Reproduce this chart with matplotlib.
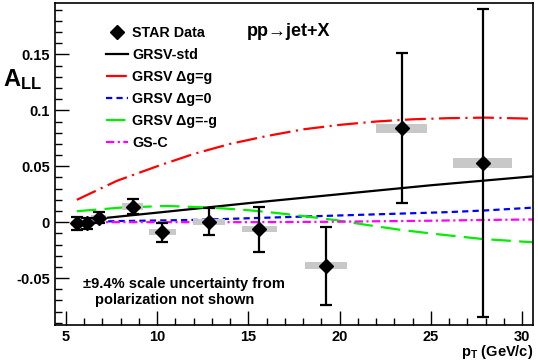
# STAR inclusive jet A_LL vs pT with GRSV / GS-C predictions
import numpy as np
import matplotlib
matplotlib.use('Agg')
import matplotlib.pyplot as plt
from matplotlib.patches import Rectangle
from matplotlib.lines import Line2D
from matplotlib.ticker import MultipleLocator, FuncFormatter

plt.rcParams['font.family'] = ['Liberation Sans', 'DejaVu Sans']
plt.rcParams['font.weight'] = 'bold'
plt.rcParams['mathtext.fontset'] = 'custom'
plt.rcParams['mathtext.rm'] = 'Liberation Sans:bold'
plt.rcParams['mathtext.bf'] = 'Liberation Sans:bold'
plt.rcParams['lines.scale_dashes'] = False

# STAR data
pt = [5.58, 6.13, 6.8, 8.65, 10.28, 12.83, 15.6, 19.25, 23.4, 27.84]
all_val = [-0.001, -0.001, 0.004, 0.014, -0.0092, 0.0003, -0.0065, -0.039, 0.084, 0.053]
stat_err = [0.006, 0.005, 0.005, 0.0065, 0.0085, 0.012, 0.02, 0.035, 0.067, 0.138]
sys_width = [0.6, 0.6, 0.8, 1.2, 1.5, 1.75, 1.9, 2.3, 2.8, 3.2]
sys_err = [0.002, 0.002, 0.002, 0.0027, 0.0027, 0.0027, 0.0027, 0.003, 0.004, 0.0045]

# theory curves
std_pt = [7.3, 10, 15, 20, 25, 30.6]
std_val = [0.004, 0.0085, 0.017, 0.025, 0.033, 0.041]
max_pt = [5.6, 7.8, 10, 12, 14, 16, 18, 20, 22, 24, 26, 28, 30.6]
max_val = [0.020, 0.037, 0.050, 0.061, 0.070, 0.077, 0.083, 0.087, 0.090, 0.092, 0.093, 0.0935, 0.0925]
zero_pt = [5.6, 8, 10, 12, 14, 16, 18, 20, 22, 24, 26, 28, 30.6]
zero_val = [0.0, 0.001, 0.0015, 0.002, 0.003, 0.004, 0.005, 0.006, 0.007, 0.008, 0.009, 0.0105, 0.013]
min_pt = [5.6, 8, 10.5, 13, 15, 16.1, 18, 19.8, 21.5, 23.4, 25.5, 27.8, 30.6]
min_val = [0.0098, 0.013, 0.0145, 0.013, 0.0107, 0.009, 0.0055, 0.0018, -0.0025, -0.007, -0.011, -0.015, -0.018]
gsc_pt = [5.6, 10, 15, 18, 20, 22, 25, 28, 30.6]
gsc_val = [0.0, 0.0, 0.0, 0.0002, 0.0004, 0.0008, 0.0013, 0.002, 0.0024]

fig = plt.figure(figsize=(5.38, 3.64), dpi=100)
ax = fig.add_axes([0.1022, 0.107, 0.8885, 0.8848])

l_std, = ax.plot(std_pt, std_val, color='black', lw=1.6)
l_max, = ax.plot(max_pt, max_val, color='red', lw=1.6, dashes=(15, 4, 1.5, 4))
l_zero, = ax.plot(zero_pt, zero_val, color='blue', lw=1.6, dashes=(4.5, 3))
l_min, = ax.plot(min_pt, min_val, color='#00ee00', lw=1.6, dashes=(14, 6))
l_gsc, = ax.plot(gsc_pt, gsc_val, color='magenta', lw=1.6, dashes=(6, 2.5, 1.5, 2.5))

# systematic boxes
for x, y, w, h in zip(pt, all_val, sys_width, sys_err):
    ax.add_patch(Rectangle((x - w / 2, y - h), w, 2 * h, color='#c8c8c8', lw=0, zorder=3))

ax.errorbar(pt, all_val, yerr=stat_err, fmt='D', color='black', ms=7, lw=1.6,
            capsize=4, capthick=1.6, zorder=4)

ax.set_xlim(4.4, 30.6)
ax.set_ylim(-0.092, 0.196)
ax.xaxis.set_major_locator(MultipleLocator(5))
ax.xaxis.set_minor_locator(MultipleLocator(1))
ax.yaxis.set_major_locator(MultipleLocator(0.05))
ax.yaxis.set_minor_locator(MultipleLocator(0.01))
ax.tick_params(which='both', direction='in', top=False, right=False, labelsize=10.5, width=1)
ax.tick_params(which='major', length=10)
ax.tick_params(which='minor', length=5)


def yfmt(v, pos):
    if abs(v) < 1e-9:
        return '0'
    return '%g' % round(v, 3)


ax.yaxis.set_major_formatter(FuncFormatter(yfmt))
for lab in ax.get_xticklabels() + ax.get_yticklabels():
    lab.set_fontweight('bold')

for s in ax.spines.values():
    s.set_linewidth(1.2)

star = Line2D([], [], ls='none', marker='D', color='black', ms=7)
handles = [star, l_std, l_max, l_zero, l_min, l_gsc]
labels = ['STAR Data', 'GRSV-std', 'GRSV Δg=g', 'GRSV Δg=0', 'GRSV Δg=-g', 'GS-C']
ax.legend(handles, labels, loc='upper left', bbox_to_anchor=(0.107, 0.927),
          frameon=False, borderpad=0, borderaxespad=0, fontsize=10.3,
          handlelength=1.55, labelspacing=0.55, handletextpad=0.25)

fig.text(247 / 538, 1 - 31 / 364, 'pp→jet+X', fontsize=13, fontweight='bold', va='center')
fig.text(3 / 538, 1 - 80 / 364, r'$\mathbf{A_{LL}}$', fontsize=17, va='center')
fig.text(533 / 538, 1 - 352 / 364, r'$\mathbf{p_{T}}$ (GeV/c)', fontsize=10.5,
         fontweight='bold', ha='right', va='center')
fig.text(83 / 538, 1 - 284 / 364, '±9.4% scale uncertainty from', fontsize=10.5,
         fontweight='bold', va='center')
fig.text(95 / 538, 1 - 300 / 364, 'polarization not shown', fontsize=10.5,
         fontweight='bold', va='center')

plt.savefig('out.png', dpi=100)
